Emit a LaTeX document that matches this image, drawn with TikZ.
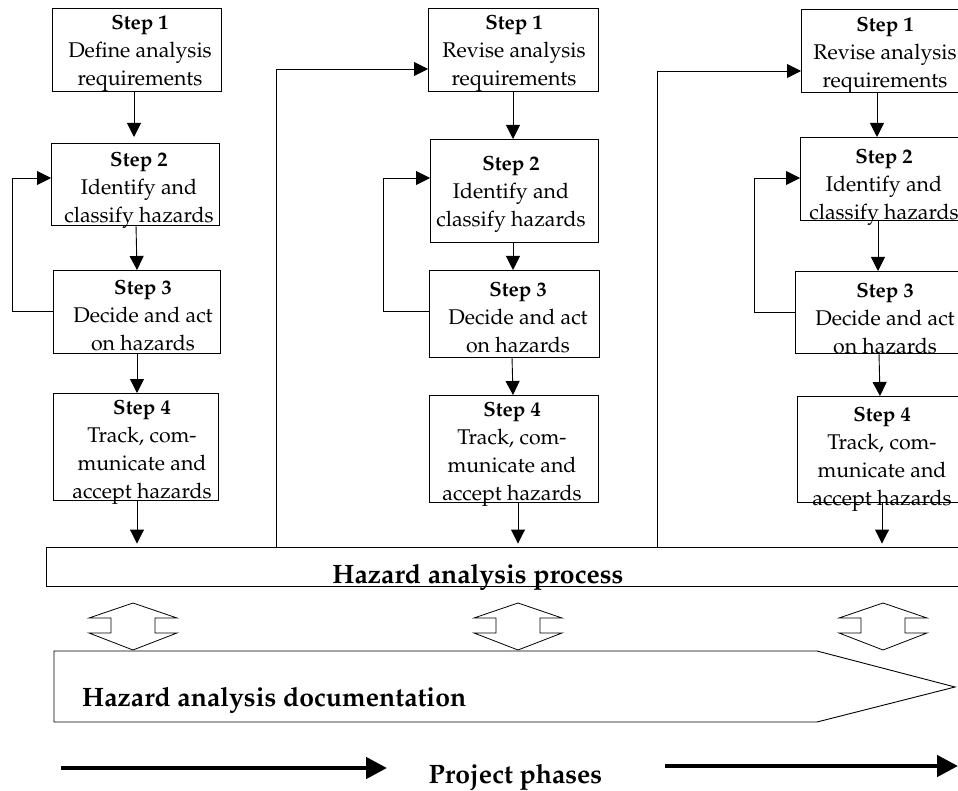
\documentclass[tikz,border=0pt]{standalone}
\usepackage[T1]{fontenc}
\usepackage{mathpazo}
\usetikzlibrary{arrows.meta}

\tikzset{
  stepbox/.style={draw, rectangle, inner sep=0pt, outer sep=0pt, line width=0.9pt},
  steptext/.style={align=center, inner sep=0pt, font=\fontsize{21.3}{28}\selectfont},
  flow/.style={draw, line width=0.9pt, -{Triangle[length=14pt,width=14pt]}},
  heading/.style={inner sep=0pt, font=\fontsize{26.6}{30}\selectfont\bfseries},
  band/.style={draw, line width=0.9pt},
  phase/.style={line width=4.5pt, -{Triangle[length=21pt,width=21pt]}},
}

\newcommand\stephead[1]{{\fontsize{20.5}{28}\selectfont\bfseries #1}}

% box name, x1, y1, x2, y2, top centre of the text, text
\newcommand\stepnode[7]{%
  \node[stepbox, minimum width={(#4-#2)*1pt}, minimum height={(#5-#3)*1pt}]
    (#1) at ({(#2+#4)/2},{(#3+#5)/2}) {};
  \node[steptext, anchor=north] (#1t) at (#6) {#7};
}

% two-headed vertical block arrow centred on x
\newcommand\updown[1]{%
  \draw[line width=0.8pt] (#1,603) -- (#1+44,618) -- (#1+22,618) -- (#1+22,633)
    -- (#1+44,633) -- (#1,650) -- (#1-44,633) -- (#1-22,633) -- (#1-22,618)
    -- (#1-44,618) -- cycle;
}

\begin{document}
\begin{tikzpicture}[x=1pt,y=-1pt]
\clip (0,0) rectangle (958,791);

% ---- first phase ----
\stepnode{a1}{52}{8}{221}{91}{140,15}{\stephead{Step 1}\\Define analysis\\requirements}
\stepnode{a2}{51}{143}{219}{225}{139,152}{\stephead{Step 2}\\Identify and\\classify hazards}
\stepnode{a3}{53}{270}{220}{353}{143,280}{\stephead{Step 3}\\Decide and act\\on hazards}
\stepnode{a4}{53}{393}{218}{500}{142,400}{\stephead{Step 4}\\Track, com-\\municate and\\accept hazards}

% ---- second phase ----
\stepnode{b1}{428}{8}{598}{91}{514,15}{\stephead{Step 1}\\Revise analysis\\requirements}
\stepnode{b2}{430}{139}{598}{242}{511,156}{\stephead{Step 2}\\Identify and\\classify hazards}
\stepnode{b3}{429}{270}{599}{357}{518,282}{\stephead{Step 3}\\Decide and act\\on hazards}
\stepnode{b4}{429}{395}{598}{502}{512,402}{\stephead{Step 4}\\Track, com-\\municate and\\accept hazards}

% ---- third phase ----
\stepnode{c1}{801}{9}{970}{92}{885,17}{\stephead{Step 1}\\Revise analysis\\requirements}
\stepnode{c2}{800}{137}{968}{220}{884,149}{\stephead{Step 2}\\Identify and\\classify hazards}
\stepnode{c3}{795}{271}{963}{353}{885,283}{\stephead{Step 3}\\Decide and act\\on hazards}
\stepnode{c4}{797}{396}{965}{502}{882,407}{\stephead{Step 4}\\Track, com-\\municate and\\accept hazards}

% ---- process band ----
\node[band, minimum width=930pt, minimum height=39pt, inner sep=0pt] (proc) at (511,566.5) {};
\node[heading, anchor=base] (proct) at (478,583) {Hazard analysis process};

% ---- step connectors ----
\draw[flow, shorten >=6pt] (a1.south -| 134,0) -- (a2.north -| 134,0);
\draw[flow] (a2.south -| 136,0) -- (a3.north -| 137,0);
\draw[flow] (a3.south -| 137,0) -- (a4.north -| 137,0);
\draw[flow, shorten >=3pt] (a4.south -| 137,0) -- (proc.north -| 137,0);

\draw[flow] (b1.south -| 513,0) -- (b2.north -| 513,0);
\draw[flow] (b2.south -| 513,0) -- (b3.north -| 513,0);
\draw[flow] (b3.south -| 512,0) -- (b4.north -| 513,0);
\draw[flow, shorten >=3pt] (b4.south -| 518,0) -- (proc.north -| 518,0);

\draw[flow] (c1.south -| 877,0) -- (c2.north -| 877,0);
\draw[flow] (c2.south -| 878,0) -- (c3.north -| 878,0);
\draw[flow] (c3.south -| 879,0) -- (c4.north -| 880,0);
\draw[flow, shorten >=3pt] (c4.south -| 882,0) -- (proc.north -| 882,0);

% ---- feedback loops ----
\draw[flow] (a3.west |- 0,311) -- (12,311) |- (a2.west |- 0,178);
\draw[flow] (b3.west |- 0,311) -- (383,311) |- (b2.west |- 0,178);
\draw[flow] (c3.west |- 0,312) -- (754,312) |- (c2.west |- 0,178);

% ---- next phase connectors ----
\draw[flow] (proc.north -| 276,0) |- (b1.west |- 0,69);
\draw[flow] (proc.north -| 657,0) |- (c1.west |- 0,71);

% ---- exchange with documentation ----
\updown{133}
\updown{518}
\updown{883}

% ---- documentation block arrow ----
\draw[line width=0.9pt] (54,651) -- (817,651) -- (955,687) -- (817,722) -- (54,722) -- cycle;
\node[heading, anchor=base west] (doct) at (82,706) {Hazard analysis documentation};

% ---- project phases ----
\coordinate (pa) at (61,768);
\coordinate (pb) at (387,768);
\coordinate (pc) at (665,766);
\coordinate (pd) at (958,766);
\draw[phase] (pa) -- (pb);
\draw[phase] (pc) -- (pd);
\node[heading, anchor=base] (phaset) at (515.5,783) {Project phases};
\end{tikzpicture}
\end{document}
